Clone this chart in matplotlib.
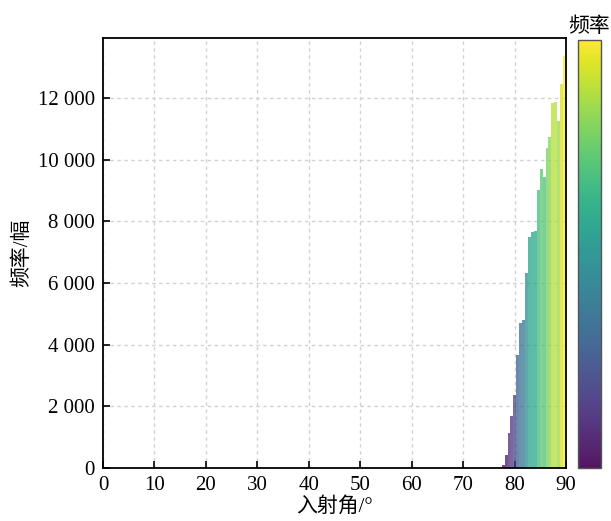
import numpy as np
import matplotlib
matplotlib.use("Agg")
import matplotlib.pyplot as plt
from matplotlib import cm, colors

plt.rcParams['font.family'] = ['Liberation Serif', 'Noto Sans CJK SC', 'DejaVu Sans']

# histogram bins (incidence angle, degrees) and counts
bin_start = 77.5
bin_end = 90.0
counts = [100, 420, 1140, 1700, 2370, 3670, 4720, 4810, 6340, 7480, 7650,
          7700, 9010, 9690, 9430, 10370, 10730, 11840, 11860, 11250, 12450, 13370]
x_ticks = [0, 10, 20, 30, 40, 50, 60, 70, 80, 90]
y_ticks = [0, 2000, 4000, 6000, 8000, 10000, 12000]
y_tick_labels = ['0', '2 000', '4 000', '6 000', '8 000', '10 000', '12 000']
xlabel = '入射角/°'
ylabel = '频率/幅'
cbar_label = '频率'

counts = np.array(counts, dtype=float)
edges = np.linspace(bin_start, bin_end, len(counts) + 1)
widths = np.diff(edges)

fig = plt.figure(figsize=(6.11, 5.21), dpi=100)
ax = fig.add_axes([0.1686, 0.1017, 0.7578, 0.8253])
cax = fig.add_axes([0.946, 0.1017, 0.0376, 0.8215])

norm = colors.Normalize(vmin=0, vmax=counts.max())
cmap = plt.get_cmap('viridis')
ax.bar(edges[:-1], counts, width=widths, align='edge',
       color=cmap(norm(counts)), alpha=0.72, linewidth=0, zorder=2)

ax.set_xlim(0, 90)
ax.set_ylim(0, 13950)
ax.set_xticks(x_ticks)
ax.set_yticks(y_ticks)
ax.set_yticklabels(y_tick_labels)
ax.tick_params(direction='in', length=5, width=1.2, labelsize=15, pad=6)
ax.grid(True, linestyle=(0, (2.5, 2.5)), color='#d2d2d2', linewidth=1, zorder=0)
ax.set_axisbelow(True)
for s in ax.spines.values():
    s.set_linewidth(1.3)
ax.set_xlabel(xlabel, fontsize=15, labelpad=1)
ax.set_ylabel(ylabel, fontsize=15, labelpad=4)

sm = cm.ScalarMappable(norm=norm, cmap=cmap)
cb = fig.colorbar(sm, cax=cax, alpha=0.92)
cb.set_ticks([])
cb.outline.set_edgecolor('#555555')
cb.outline.set_linewidth(1)
cax.set_title(cbar_label, fontsize=15, pad=6)

fig.savefig('out.png', dpi=100)
